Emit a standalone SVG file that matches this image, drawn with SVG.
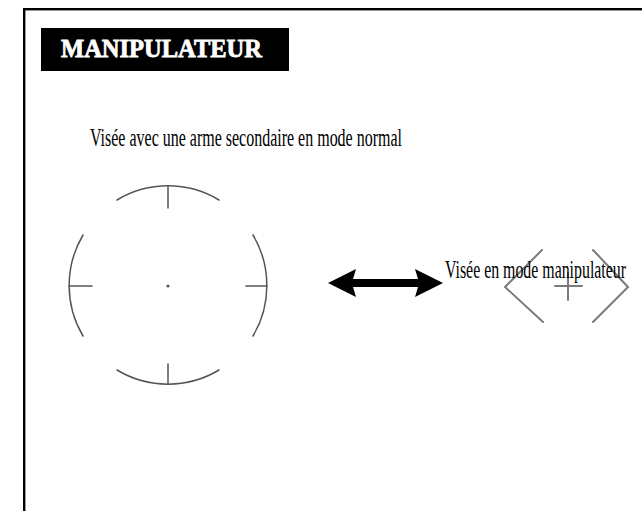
<svg xmlns="http://www.w3.org/2000/svg" width="642" height="511" viewBox="0 0 642 511">
  <style>
    .frame { fill: none; stroke: #000; stroke-width: 2.4; }
    .ret { fill: none; stroke: #555; stroke-width: 1.5; stroke-linecap: round; }
    .ret2 { fill: none; stroke: #7a7a7a; stroke-width: 2; stroke-linecap: round; }
    .lbl { font-family: "Liberation Serif", "Times New Roman", serif; font-size: 25px; fill: #000; }
    .title { font-family: "Liberation Serif", "Times New Roman", serif; font-weight: bold; font-size: 26px; fill: #fff; stroke: #fff; stroke-width: 0.8; }
  </style>
  <rect x="0" y="0" width="642" height="511" fill="#fff"/>
  <rect class="frame" x="24.2" y="9.2" width="700" height="600"/>

  <g id="title">
    <rect x="41" y="28" width="248" height="43" fill="#000"/>
    <text class="title" x="61" y="57" textLength="201" lengthAdjust="spacingAndGlyphs">MANIPULATEUR</text>
  </g>

  <g id="label-normal">
    <text class="lbl" x="90" y="146" textLength="312" lengthAdjust="spacingAndGlyphs">Visée avec une arme secondaire en mode normal</text>
  </g>

  <g id="reticle-normal">
    <path class="ret" d="M117,200 A99,99 0 0 1 219,200"/>
    <path class="ret" d="M117,370 A99,99 0 0 0 219,370"/>
    <path class="ret" d="M83,235 A99,99 0 0 0 83,336"/>
    <path class="ret" d="M253,235 A99,99 0 0 1 253,336"/>
    <line class="ret" x1="168" y1="186" x2="168" y2="208"/>
    <line class="ret" x1="168" y1="364" x2="168" y2="384"/>
    <line class="ret" x1="69" y1="286" x2="92" y2="286"/>
    <line class="ret" x1="246" y1="286" x2="267" y2="286"/>
    <circle cx="168" cy="286" r="1.6" fill="#555"/>
  </g>

  <g id="reticle-manip">
    <polyline class="ret2" points="542,250 505,287 543,322"/>
    <polyline class="ret2" points="593,250 628,287 593,322"/>
    <line class="ret2" x1="555" y1="286" x2="582" y2="286"/>
    <line class="ret2" x1="568" y1="273" x2="568" y2="300"/>
  </g>

  <g id="label-manip">
    <text class="lbl" x="445" y="278" textLength="181" lengthAdjust="spacingAndGlyphs">Visée en mode manipulateur</text>
  </g>

  <g id="connectors">
    <path id="arrow" fill="#000" d="M328,283 L356,269 L353,279 L418,279 L415,269 L443,283 L415,297 L418,287 L353,287 L356,297 Z"/>
  </g>
</svg>
